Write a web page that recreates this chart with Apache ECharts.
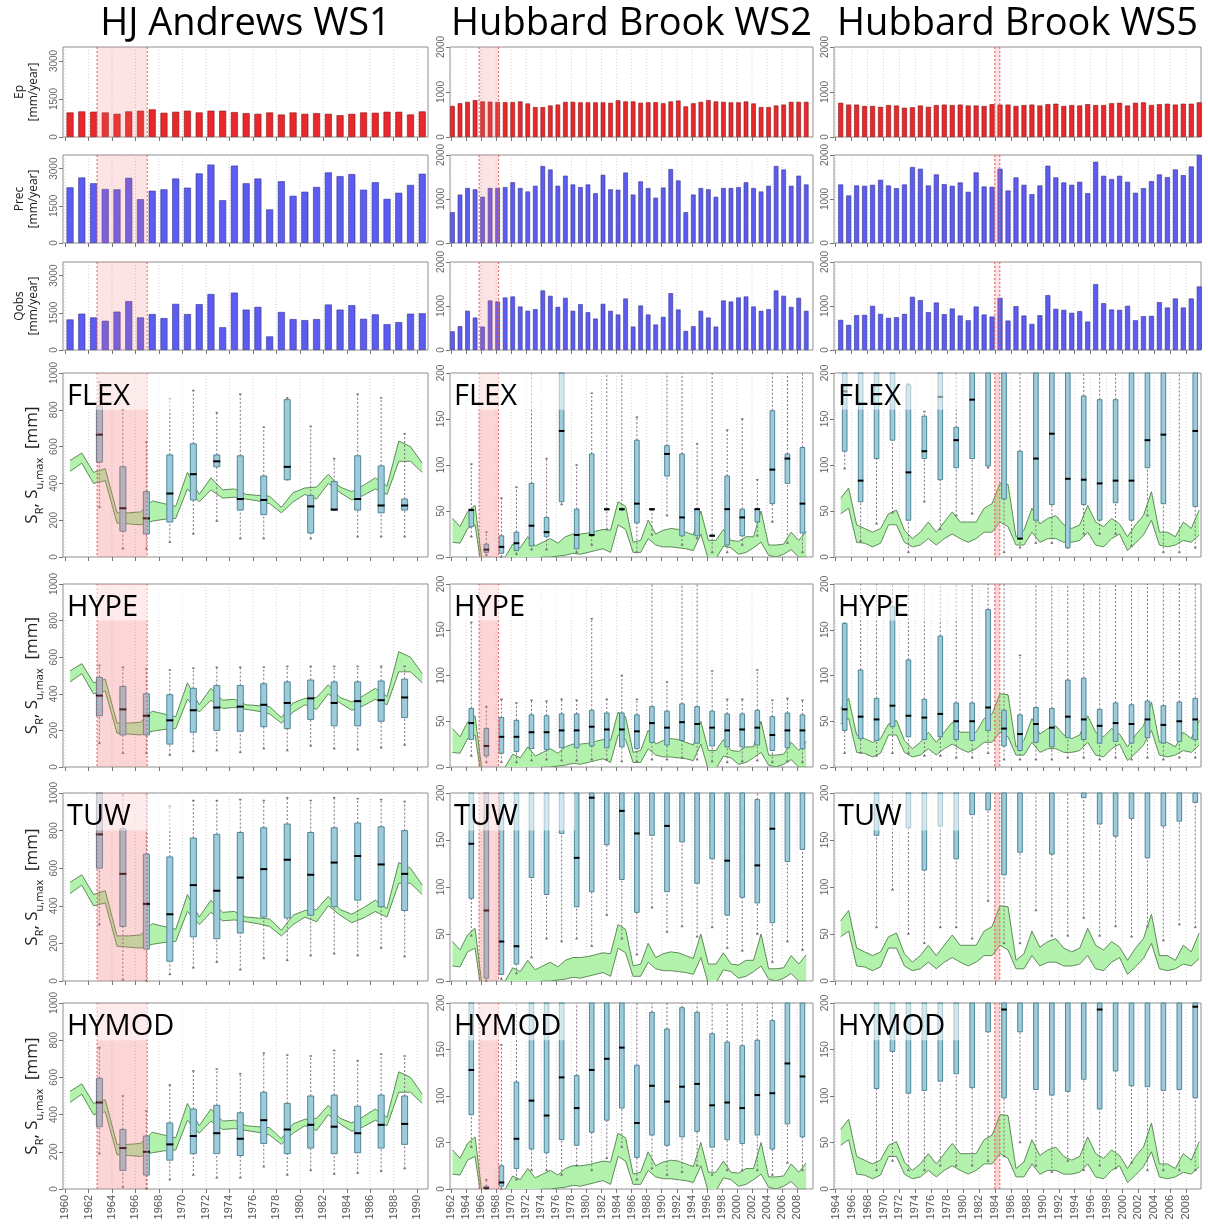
<!DOCTYPE html>
<html><head><meta charset="utf-8">
<script src="https://cdn.jsdelivr.net/npm/echarts@6/dist/echarts.min.js"></script>
<style>html,body{margin:0;padding:0;background:#fff}#c{width:1208px;height:1224px}</style>
</head><body><div id="c"></div>
<script>
// ---------------- DATA ----------------
const yearsHJ = [1960,1961,1962,1963,1964,1965,1966,1967,1968,1969,1970,1971,1972,1973,1974,1975,1976,1977,1978,1979,1980,1981,1982,1983,1984,1985,1986,1987,1988,1989,1990];
const yearsWS2 = [1962,1963,1964,1965,1966,1967,1968,1969,1970,1971,1972,1973,1974,1975,1976,1977,1978,1979,1980,1981,1982,1983,1984,1985,1986,1987,1988,1989,1990,1991,1992,1993,1994,1995,1996,1997,1998,1999,2000,2001,2002,2003,2004,2005,2006,2007,2008,2009];
const yearsWS5 = [1964,1965,1966,1967,1968,1969,1970,1971,1972,1973,1974,1975,1976,1977,1978,1979,1980,1981,1982,1983,1984,1985,1986,1987,1988,1989,1990,1991,1992,1993,1994,1995,1996,1997,1998,1999,2000,2001,2002,2003,2004,2005,2006,2007,2008,2009];

const ticksHJ = [1960,1962,1964,1966,1968,1970,1972,1974,1976,1978,1980,1982,1984,1986,1988,1990];
const ticksWS2 = [1962,1964,1966,1968,1970,1972,1974,1976,1978,1980,1982,1984,1986,1988,1990,1992,1994,1996,1998,2000,2002,2004,2006,2008];
const ticksWS5 = [1964,1966,1968,1970,1972,1974,1976,1978,1980,1982,1984,1986,1988,1990,1992,1994,1996,1998,2000,2002,2004,2006,2008];

const epHJ = [968,1009,996,968,914,1009,1037,1091,955,996,1037,968,1037,1037,982,941,914,968,887,968,914,941,914,859,914,968,955,996,996,887,1009];
const precHJ = [2245,2642,2409,2177,2163,2628,1766,2108,2163,2601,2231,2806,3162,1725,3121,2409,2601,1355,2491,1903,2067,2259,2847,2697,2779,2149,2450,1780,2026,2341,2793];
const qobsHJ = [1232,1465,1314,1177,1547,1971,1314,1451,1287,1862,1451,1848,2259,917,2314,1629,1739,548,1533,1246,1205,1246,1834,1629,1807,1259,1437,1040,1123,1465,1479];

const epWS2 = [690,750,780,820,790,785,775,775,775,790,745,665,665,700,720,780,780,770,770,770,770,760,815,790,790,760,770,775,750,790,810,680,750,780,820,790,780,770,770,790,745,665,665,700,720,780,780,780];
const precWS2 = [700,1100,1250,1220,1050,1250,1250,1270,1380,1250,1170,1300,1750,1670,1300,1530,1330,1270,1330,1130,1550,1220,1210,1600,1100,1400,1250,1030,1260,1680,1420,700,1100,1250,1220,1050,1250,1250,1270,1380,1250,1170,1300,1750,1670,1300,1530,1330];
const qobsWS2 = [425,540,890,737,532,1125,1102,1193,1216,988,890,927,1353,1231,980,1186,890,1041,859,714,1049,890,806,1170,532,1011,806,578,752,1292,920,433,540,890,737,532,1125,1102,1193,1216,988,890,927,1353,1231,980,1186,890];

const epWS5 = [760,720,720,690,690,670,710,700,650,660,700,670,710,720,710,720,700,700,690,730,720,720,690,710,720,700,730,740,690,710,700,730,710,710,750,760,700,760,770,710,730,740,720,740,740,770];
const precWS5 = [1330,1080,1307,1300,1322,1436,1307,1246,1330,1725,1687,1307,1558,1338,1300,1376,1163,1604,1284,1277,1687,1193,1490,1322,1110,1307,1756,1490,1376,1322,1391,1132,1847,1528,1452,1528,1391,1140,1246,1406,1558,1497,1672,1543,1740,2000];
const qobsWS5 = [684,570,790,798,1003,821,730,745,821,1208,1132,859,1079,813,942,783,676,988,806,760,1186,669,996,783,593,790,1246,935,912,844,882,646,1497,1064,920,912,1003,676,768,775,1087,965,1170,965,1170,1444];

// Sr band (climate-derived root-zone storage), lower and upper
const bandUpperHJ = [525,565,460,480,240,240,245,305,290,275,460,340,430,365,370,340,335,330,270,350,375,380,450,380,355,390,430,385,630,600,510];
const bandLowerHJ = [465,510,400,415,185,180,175,195,205,210,370,300,365,320,325,315,305,290,240,300,340,315,400,350,310,335,370,340,520,520,460];
const bandUpperWS2 = [42,33,49,56,-10,-20,-20,0,14,10,22,12,16,20,15,22,25,25,26,28,30,29,60,55,16,18,40,25,29,31,30,27,24,50,18,18,30,18,17,22,22,50,13,13,14,27,18,28];
const bandLowerWS2 = [16,15,31,35,-20,-30,-30,-10,-5,-5,-3,-2,0,0,1,2,4,3,5,7,9,5,35,30,5,5,20,13,11,11,10,9,7,25,-3,-2,12,10,3,5,10,16,2,0,3,8,0,0];
const bandUpperWS5 = [64,75,35,31,27,31,47,51,29,20,27,38,27,38,49,38,38,38,53,58,80,79,22,29,53,36,42,45,35,31,35,56,38,33,42,36,22,35,45,71,27,27,22,38,31,51];
const bandLowerWS5 = [47,53,16,15,11,15,35,35,16,11,13,20,13,20,25,20,16,20,27,27,38,33,13,13,27,16,20,20,16,16,18,27,13,11,20,25,7,15,24,40,13,11,13,18,16,24];

// box plots of calibrated Su,max: [low whisker, q1, median, q3, high whisker]
const boxYearsHJ = [1963,1965,1967,1969,1971,1973,1975,1977,1979,1981,1983,1985,1987,1989];
const boxYearsWS2 = [1965,1967,1969,1971,1973,1975,1977,1979,1981,1983,1985,1987,1989,1991,1993,1995,1997,1999,2001,2003,2005,2007,2009];
const boxYearsWS5 = [1965,1967,1969,1971,1973,1975,1977,1979,1981,1983,1985,1987,1989,1991,1993,1995,1997,1999,2001,2003,2005,2007,2009];

const flexHJ = [[270,515,665,820,950],[45,140,265,490,800],[45,125,210,355,625],[80,190,345,555,860],[125,310,450,615,905],[195,490,520,555,785],[100,255,315,550,885],[100,230,310,440,705],[420,420,490,855,865],[100,130,275,335,710],[255,255,258,410,535],[110,255,315,550,885],[110,240,280,495,865],[110,255,280,315,670]];
const hypeHJ = [[130,280,390,490,555],[75,175,315,440,545],[75,175,280,400,535],[65,125,255,395,530],[85,190,310,430,540],[90,200,325,445,545],[80,195,330,445,545],[100,220,340,455,545],[90,210,350,465,550],[115,260,375,475,550],[100,225,350,465,550],[95,225,360,465,550],[105,250,365,470,550],[120,270,380,480,550]];
const tuwHJ = [[300,600,780,1000,1100],[5,290,570,810,990],[0,170,410,675,990],[35,105,355,660,930],[70,235,510,760,960],[100,225,480,780,960],[60,255,550,790,965],[120,340,595,815,960],[110,335,645,835,975],[135,350,565,790,960],[145,395,630,815,975],[135,430,665,840,970],[175,395,620,820,965],[130,375,570,800,955]];
const hymodHJ = [[190,335,465,595,760],[10,100,220,320,500],[0,75,200,285,420],[50,155,240,355,560],[75,190,285,430,635],[60,190,300,450,645],[60,180,270,410,620],[120,245,370,520,730],[75,190,320,460,720],[100,220,345,500,715],[80,190,335,505,745],[85,195,300,445,690],[95,220,345,505,725],[110,240,350,500,715]];

const flexWS2 = [[22,33,51,52,101],[2,5,8,14,27],[0,4,11,23,64],[3,7,15,27,76],[8,12,34,80,210],[8,22,27,43,107],[57,60,137,230,300],[5,9,24,52,100],[13,23,24,112,178],[30,51,52,52,210],[51,51,52,52,210],[5,37,58,127,152],[24,51,52,52,52],[45,88,112,121,210],[13,23,43,112,210],[20,23,52,52,123],[5,23,23,24,210],[5,13,52,88,138],[13,23,43,52,150],[23,38,52,52,84],[38,58,95,159,210],[15,80,107,112,210],[5,26,58,119,210]];
const hypeWS2 = [[12,30,48,64,158],[5,12,23,42,66],[5,15,33,54,74],[5,17,33,51,70],[7,20,38,57,73],[8,19,38,56,72],[7,21,40,58,74],[7,21,40,58,73],[8,23,44,62,162],[8,21,41,59,74],[6,22,41,59,100],[6,20,39,57,74],[8,27,48,66,210],[8,24,43,61,93],[10,29,49,69,210],[8,26,47,66,210],[6,23,43,61,105],[5,22,40,58,74],[6,22,41,58,74],[7,24,43,62,106],[5,18,35,55,73],[6,21,40,59,75],[5,20,40,57,73]];
const tuwWS2 = [[48,88,146,230,300],[0,3,75,300,400],[2,7,42,250,300],[8,18,37,260,300],[25,110,220,300,400],[45,92,220,300,400],[42,157,230,300,400],[45,79,131,250,400],[37,95,195,260,400],[70,145,230,300,400],[45,108,181,260,400],[28,73,157,250,400],[78,155,230,300,400],[52,95,165,250,400],[58,148,230,300,400],[47,104,210,300,400],[57,130,220,300,400],[35,70,128,250,400],[32,89,210,300,400],[50,83,123,193,400],[20,62,162,250,400],[42,127,210,300,400],[33,140,220,300,400]];
const hymodWS2 = [[45,80,128,230,300],[0,0.5,1,3,10],[0,3,7,25,155],[10,22,54,115,210],[20,43,95,210,300],[20,39,79,210,300],[15,53,120,230,300],[25,47,87,122,210],[20,61,128,230,300],[33,74,140,230,300],[45,87,152,230,300],[10,34,71,133,210],[22,58,111,190,210],[15,47,94,172,210],[18,56,110,195,210],[25,62,113,190,210],[15,45,90,167,210],[20,53,93,158,210],[20,49,87,154,210],[20,58,101,160,210],[15,43,103,181,210],[28,70,135,230,300],[20,56,121,230,300]];

const flexWS5 = [[96,115,180,250,300],[17,60,83,220,300],[36,107,210,260,300],[48,127,210,260,300],[5,40,92,187,188],[60,107,115,153,158],[30,84,174,230,300],[45,97,127,141,210],[47,107,171,230,300],[97,99,230,260,300],[5,63,210,260,300],[10,20,20,115,210],[15,40,107,230,300],[15,57,134,230,300],[10,10,85,230,300],[25,57,84,175,210],[25,40,80,171,210],[25,59,83,171,210],[12,40,83,230,300],[45,97,127,230,300],[5,58,133,230,300],[5,210,230,260,300],[10,55,137,230,300]];
const hypeWS5 = [[15,40,63,157,157],[15,31,55,106,210],[12,29,52,75,210],[15,44,67,175,210],[15,33,56,117,210],[12,30,54,74,210],[12,33,58,143,210],[10,30,50,70,210],[10,29,50,70,210],[15,40,65,172,210],[8,23,42,62,210],[8,18,36,57,122],[8,27,47,65,210],[8,22,43,64,210],[10,32,55,95,210],[10,30,52,97,210],[8,26,45,63,210],[10,28,48,70,210],[8,26,47,68,210],[10,32,52,72,210],[8,26,46,67,210],[10,28,50,71,210],[10,30,52,75,210]];
const tuwWS5 = [[205,210,230,260,300],[205,210,230,260,300],[57,155,230,260,300],[97,210,230,260,300],[50,163,230,260,300],[40,118,230,260,300],[57,165,230,260,300],[57,130,230,260,300],[45,177,230,260,300],[85,182,230,260,300],[40,113,230,260,300],[40,137,230,260,300],[75,210,230,260,300],[48,135,230,260,300],[48,210,230,260,300],[67,195,230,260,300],[48,167,230,260,300],[58,154,230,260,300],[47,173,230,260,300],[58,131,230,260,300],[43,165,230,260,300],[60,170,230,260,300],[57,190,230,260,300]];
const hymodWS5 = [[205,210,230,260,300],[205,210,230,260,300],[20,108,230,260,300],[30,148,230,260,300],[20,103,230,260,300],[20,106,230,260,300],[25,116,230,260,300],[25,124,230,260,300],[25,109,230,260,300],[30,169,230,260,300],[35,98,193,260,300],[50,169,230,260,300],[25,107,230,260,300],[18,101,230,260,300],[30,105,230,260,300],[20,118,230,260,300],[25,86,193,260,300],[22,127,230,260,300],[28,111,230,260,300],[20,110,230,260,300],[20,106,230,260,300],[20,107,230,260,300],[20,98,196,260,300]];

// shaded periods (year positions)
const shadeHJ = [1962.73, 1967.0];
const shadeWS2 = [1965.73, 1968.33];
const shadeWS5 = [1983.97, 1984.6];

const catchments = ['HJ Andrews WS1', 'Hubbard Brook WS2', 'Hubbard Brook WS5'];
const models = ['FLEX', 'HYPE', 'TUW', 'HYMOD'];
const topNames = ['Ep\n[mm/year]', 'Prec\n[mm/year]', 'Qobs\n[mm/year]'];

// ---------------- LAYOUT ----------------
const colLeft = [63, 450, 834], colRight = [428, 813, 1201];
const rowTop = [47, 155, 262, 373, 584, 793, 1003];
const rowBot = [137, 243, 350, 557, 767, 981, 1189];

const cols = [
  {years: yearsHJ, top: [epHJ, precHJ, qobsHJ], up: bandUpperHJ, lo: bandLowerHJ, boxYears: boxYearsHJ,
   models: [flexHJ, hypeHJ, tuwHJ, hymodHJ], ticks: ticksHJ, shade: shadeHJ,
   xr: [1959.83, 1990.92], off: 0.43, barW: 7, boxW: 6,
   topMax: 3550, topTicks: [0, 1500, 3000], modMax: 1000, modTicks: [0, 200, 400, 600, 800, 1000]},
  {years: yearsWS2, top: [epWS2, precWS2, qobsWS2], up: bandUpperWS2, lo: bandLowerWS2, boxYears: boxYearsWS2,
   models: [flexWS2, hypeWS2, tuwWS2, hymodWS2], ticks: ticksWS2, shade: shadeWS2,
   xr: [1961.87, 2010.1], off: 0.2, barW: 4.6, boxW: 4.6,
   topMax: 2000, topTicks: [0, 1000, 2000], modMax: 200, modTicks: [0, 50, 100, 150, 200]},
  {years: yearsWS5, top: [epWS5, precWS5, qobsWS5], up: bandUpperWS5, lo: bandLowerWS5, boxYears: boxYearsWS5,
   models: [flexWS5, hypeWS5, tuwWS5, hymodWS5], ticks: ticksWS5, shade: shadeWS5,
   xr: [1963.79, 2009.85], off: 0.63, barW: 5, boxW: 4.6,
   topMax: 2000, topTicks: [0, 1000, 2000], modMax: 200, modTicks: [0, 50, 100, 150, 200]}
];

const grids = [], xAxes = [], yAxes = [], series = [], titles = [];
const labelFont = 'Liberation Sans, Arial, sans-serif';
const textFont = 'Open Sans, sans-serif';

function clampY(cs, y) { return Math.max(cs.y, Math.min(cs.y + cs.height, y)); }

function gridLines(g, ticks) {
  return {type: 'custom', xAxisIndex: g, yAxisIndex: g, z: 1, silent: true, animation: false,
    data: ticks.map(t => [t]), encode: {x: 0},
    renderItem: (p, api) => {
      const cs = p.coordSys; const x = api.coord([api.value(0), 0])[0];
      return {type: 'line', shape: {x1: x, y1: cs.y, x2: x, y2: cs.y + cs.height},
        style: {stroke: '#d2d2d2', lineWidth: 1, lineDash: [1, 2]}};
    }};
}

function shadeSeries(g, shade, alpha) {
  return {type: 'custom', xAxisIndex: g, yAxisIndex: g, z: 6, silent: true, animation: false,
    data: [[shade[0], shade[1]]], encode: {x: [0, 1]},
    renderItem: (p, api) => {
      const cs = p.coordSys;
      const x0 = api.coord([api.value(0), 0])[0], x1 = api.coord([api.value(1), 0])[0];
      return {type: 'group', children: [
        {type: 'rect', shape: {x: x0, y: cs.y, width: x1 - x0, height: cs.height}, style: {fill: 'rgba(245,120,120,' + alpha + ')'}},
        {type: 'line', shape: {x1: x0, y1: cs.y, x2: x0, y2: cs.y + cs.height}, style: {stroke: '#e85a5a', lineWidth: 1, lineDash: [2, 2]}},
        {type: 'line', shape: {x1: x1, y1: cs.y, x2: x1, y2: cs.y + cs.height}, style: {stroke: '#e85a5a', lineWidth: 1, lineDash: [2, 2]}}
      ]};
    }};
}

function bandSeries(g, xs, up, lo) {
  return {type: 'custom', xAxisIndex: g, yAxisIndex: g, z: 3, silent: true, animation: false, clip: true,
    data: [[xs[0], up[0]]], encode: {x: 0, y: 1},
    renderItem: (p, api) => {
      const pu = xs.map((x, i) => api.coord([x, up[i]]));
      const pl = xs.map((x, i) => api.coord([x, lo[i]]));
      return {type: 'group', children: [
        {type: 'polygon', shape: {points: pu.concat(pl.slice().reverse())}, style: {fill: '#b3f2ad', stroke: null}},
        {type: 'polyline', shape: {points: pu}, style: {stroke: '#5e8c58', lineWidth: 1, fill: null}},
        {type: 'polyline', shape: {points: pl}, style: {stroke: '#5e8c58', lineWidth: 1, fill: null}}
      ]};
    }};
}

function boxSeries(g, xs, stats, w) {
  return {type: 'custom', xAxisIndex: g, yAxisIndex: g, z: 4, silent: true, animation: false,
    data: stats.map((s, i) => [xs[i], s[0], s[1], s[2], s[3], s[4]]), encode: {x: 0, y: [1, 2, 3, 4, 5]},
    renderItem: (p, api) => {
      const cs = p.coordSys;
      const x = api.coord([api.value(0), 0])[0];
      const raw = [1, 2, 3, 4, 5].map(d => api.coord([api.value(0), api.value(d)])[1]);
      const y = raw.map(v => clampY(cs, v));
      const inR = v => v >= cs.y - 0.5 && v <= cs.y + cs.height + 0.5;
      const ch = [];
      const wst = {stroke: '#807080', lineWidth: 1, lineDash: [2, 2]};
      if (y[0] - y[1] > 0.5) ch.push({type: 'line', shape: {x1: x, y1: y[0], x2: x, y2: y[1]}, style: wst});
      if (y[3] - y[4] > 0.5) ch.push({type: 'line', shape: {x1: x, y1: y[3], x2: x, y2: y[4]}, style: wst});
      [0, 4].forEach(k => { if (inR(raw[k])) ch.push({type: 'line', shape: {x1: x - 1.2, y1: raw[k], x2: x + 1.2, y2: raw[k]}, style: {stroke: '#777', lineWidth: 1.5}}); });
      if (y[1] - y[3] > 0.2) ch.push({type: 'rect', shape: {x: x - w / 2, y: y[3], width: w, height: y[1] - y[3]}, style: {fill: '#9ecbd9', stroke: '#4f8598', lineWidth: 1}});
      if (inR(raw[2])) ch.push({type: 'line', shape: {x1: x - w / 2 - 0.5, y1: raw[2], x2: x + w / 2 + 0.5, y2: raw[2]}, style: {stroke: '#000', lineWidth: 2}});
      return {type: 'group', children: ch};
    }};
}

function overlaySeries(g, ymax) {
  return {type: 'custom', xAxisIndex: g, yAxisIndex: g, z: 7, silent: true, animation: false,
    data: [[0, ymax]], encode: {y: 1},
    renderItem: (p, api) => {
      const cs = p.coordSys;
      const y0 = api.coord([0, api.value(1) * 0.8])[1];
      return {type: 'rect', shape: {x: cs.x + 1, y: cs.y + 1, width: 124, height: y0 - cs.y - 1},
        style: {fill: 'rgba(255,255,255,0.55)'}};
    }};
}

for (let r = 0; r < 7; r++) {
  for (let c = 0; c < 3; c++) {
    const g = r * 3 + c, C = cols[c];
    grids.push({left: colLeft[c], top: rowTop[r], width: colRight[c] - colLeft[c], height: rowBot[r] - rowTop[r],
      show: true, borderColor: '#8f8f8f', borderWidth: 1, backgroundColor: '#fff', containLabel: false});
    xAxes.push({gridIndex: g, type: 'value', min: C.xr[0], max: C.xr[1],
      axisLine: {show: false},
      axisTick: {show: true, length: 4, customValues: C.ticks, lineStyle: {color: '#777'}},
      axisLabel: {show: r === 6, customValues: C.ticks, rotate: 90, fontSize: 11, color: '#555', margin: 6,
        fontFamily: labelFont, formatter: v => String(v)},
      splitLine: {show: false}});
    const isTop = r < 3;
    const ymax = isTop ? C.topMax : C.modMax;
    const yt = isTop ? C.topTicks : C.modTicks;
    const ya = {gridIndex: g, type: 'value', min: 0, max: ymax,
      axisLine: {show: false},
      axisTick: {show: true, length: 4, customValues: yt, lineStyle: {color: '#777'}},
      axisLabel: {customValues: yt, rotate: 90, fontSize: 10, color: '#666', margin: 4, fontFamily: labelFont,
        formatter: v => String(v)},
      splitLine: {show: false}};
    if (c === 0) {
      if (isTop) {
        Object.assign(ya, {name: topNames[r], nameLocation: 'middle', nameGap: 22, nameRotate: 90,
          nameTextStyle: {fontSize: 12, lineHeight: 14, color: '#222', fontFamily: textFont}});
      } else {
        Object.assign(ya, {name: '{m|S}{s|R}{m|, S}{s|u,max}{m|  [mm]}', nameLocation: 'middle', nameGap: 18, nameRotate: 90,
          nameTextStyle: {rich: {
            m: {fontSize: 17, lineHeight: 26, verticalAlign: 'middle', color: '#222', fontFamily: textFont},
            s: {fontSize: 11, lineHeight: 26, verticalAlign: 'bottom', color: '#222', fontFamily: textFont}}}});
      }
    }
    yAxes.push(ya);

    series.push(gridLines(g, C.ticks));
    if (isTop) {
      const vals = C.top[r];
      const red = r === 0;
      series.push({type: 'bar', xAxisIndex: g, yAxisIndex: g, z: 2, silent: true, animation: false,
        barWidth: C.barW, data: C.years.map((y, i) => [y + C.off, vals[i]]),
        itemStyle: {color: red ? '#e8282a' : '#5c5cf0', borderColor: red ? '#8a1515' : '#34348f', borderWidth: 0.6}});
      series.push(shadeSeries(g, C.shade, 0.2));
    } else {
      const xs = C.years.map(y => y + C.off);
      series.push(bandSeries(g, xs, C.up, C.lo));
      series.push(boxSeries(g, C.boxYears.map(y => y + C.off - 0.5), C.models[r - 3], C.boxW));
      series.push(shadeSeries(g, C.shade, 0.3));
      series.push(overlaySeries(g, ymax));
      titles.push({text: models[r - 3], left: colLeft[c] + 4, top: rowTop[r] + 9, padding: 0,
        textStyle: {fontSize: 29, fontWeight: 'normal', color: '#000', fontFamily: textFont}, z: 10});
    }
  }
}
catchments.forEach((name, c) => {
  titles.push({text: name, left: (colLeft[c] + colRight[c]) / 2, top: 5, padding: 0, textAlign: 'center',
    textStyle: {fontSize: 38, fontWeight: 'normal', color: '#000', fontFamily: textFont}});
});

const chart = echarts.init(document.getElementById('c'), null, {renderer: 'canvas', width: 1208, height: 1224});
chart.setOption({
  animation: false, backgroundColor: '#fff',
  title: titles, grid: grids, xAxis: xAxes, yAxis: yAxes, series: series
});
</script></body></html>
